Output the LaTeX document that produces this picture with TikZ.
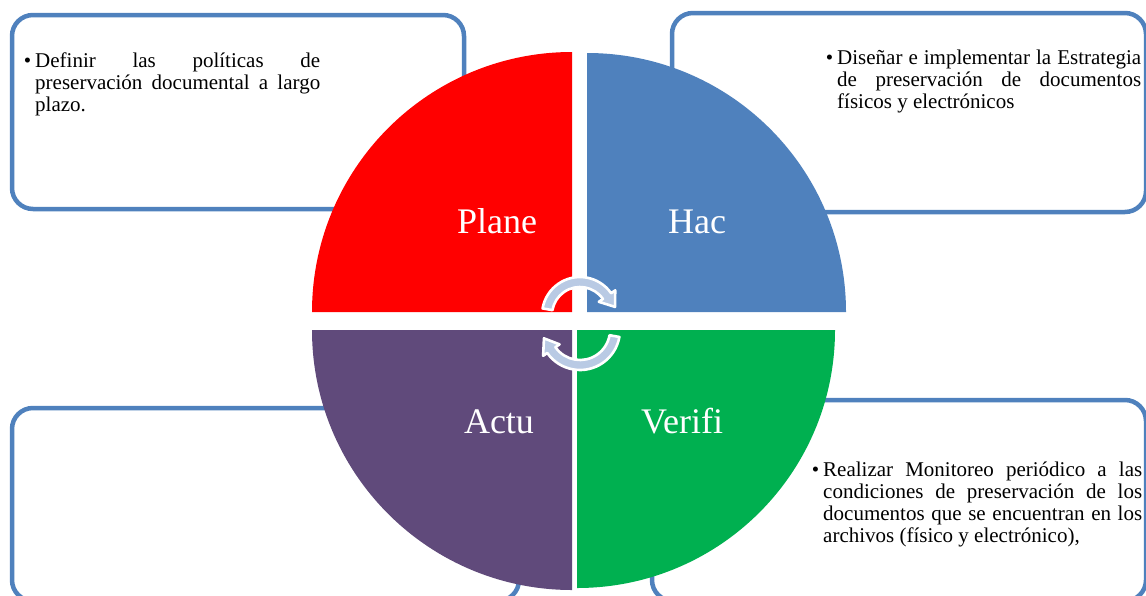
\documentclass[tikz,border=0pt]{standalone}
\usepackage{fontspec}
\setmainfont{Liberation Serif}
\usetikzlibrary{calc}
\definecolor{boxblue}{RGB}{79,129,189}
\definecolor{qred}{RGB}{255,0,0}
\definecolor{qblue}{RGB}{79,129,189}
\definecolor{qpurple}{RGB}{96,74,123}
\definecolor{qgreen}{RGB}{0,176,80}
\definecolor{arrowfill}{RGB}{185,202,228}
\tikzset{
  infobox/.style={draw=boxblue, line width=4.5pt, fill=white, rounded corners=21pt},
  cyclearrow/.style={fill=arrowfill, draw=white, line width=2.6pt, line join=round},
  quadlabel/.style={text=white, font=\fontsize{36}{40}\selectfont, inner sep=0pt, anchor=base},
  bullettext/.style={text=black, inner sep=0pt, anchor=base west, align=justify,
     font=\fontsize{21}{22}\selectfont}
}
\newcommand{\bul}{\noindent\llap{\textbullet\hspace{4pt}}}
\begin{document}
\begin{tikzpicture}[x=1pt,y=-1pt]
\useasboundingbox (0,0) rectangle (1146,595);
% boxes
\path[infobox] (12,15) rectangle (464,209);
\path[infobox] (672,13) rectangle (1146,212);
\path[infobox] (12,408) rectangle (519,601);
\path[infobox] (652,400) rectangle (1146,601);
% quadrant centres
\coordinate (cr) at (572,312);
\coordinate (cb) at (587,312);
\coordinate (cp) at (572,330);
\coordinate (cg) at (577,330);
% quadrants
\fill[qred] (cr) -- ++(180:260) arc[start angle=180, end angle=270, radius=260] -- cycle;
\fill[qblue] (cb) -- ++(270:259) arc[start angle=270, end angle=360, radius=259] -- cycle;
\fill[qgreen] (cg) -- ++(0:258) arc[start angle=0, end angle=90, radius=258] -- cycle;
\fill[qpurple] (cp) -- ++(90:260) arc[start angle=90, end angle=180, radius=260] -- cycle;
% cycle arrows
\coordinate (ca) at (580,315);
\coordinate (cc) at (580,330);
\draw[cyclearrow] ($(ca)+(190:38)$) arc[start angle=190, end angle=325, radius=38]
   -- ($(ca)+(325:43)$) -- ($(ca)+(347:36)$) -- ($(ca)+(325:23)$) -- ($(ca)+(325:28)$)
   arc[start angle=325, end angle=190, radius=28] -- cycle;
\draw[cyclearrow] ($(cc)+(10:40)$) arc[start angle=10, end angle=145, radius=40]
   -- ($(cc)+(145:45)$) -- ($(cc)+(167:37)$) -- ($(cc)+(145:25)$) -- ($(cc)+(145:30)$)
   arc[start angle=145, end angle=10, radius=30] -- cycle;
% labels
\node[quadlabel] (plane) at (497,233) {Plane};
\node[quadlabel] (hac) at (697,233) {Hac};
\node[quadlabel] (actu) at (499,433) {Actu};
\node[quadlabel] (verifi) at (682,433) {Verifi};
% texts
\node[bullettext, text width=285pt] (t1) at (35,67)
  {\bul Definir las políticas de\linebreak preservación documental a largo\linebreak plazo.};
\node[bullettext, text width=304pt] (t2) at (837,64)
  {\bul Diseñar e implementar la Estrategia\linebreak de preservación de documentos\linebreak físicos y electrónicos};
\node[bullettext, text width=319pt] (t3) at (823,476)
  {\bul Realizar Monitoreo periódico a las\linebreak condiciones de preservación de los\linebreak documentos que se encuentran en los\linebreak archivos (físico y electrónico),};
\end{tikzpicture}
\end{document}
